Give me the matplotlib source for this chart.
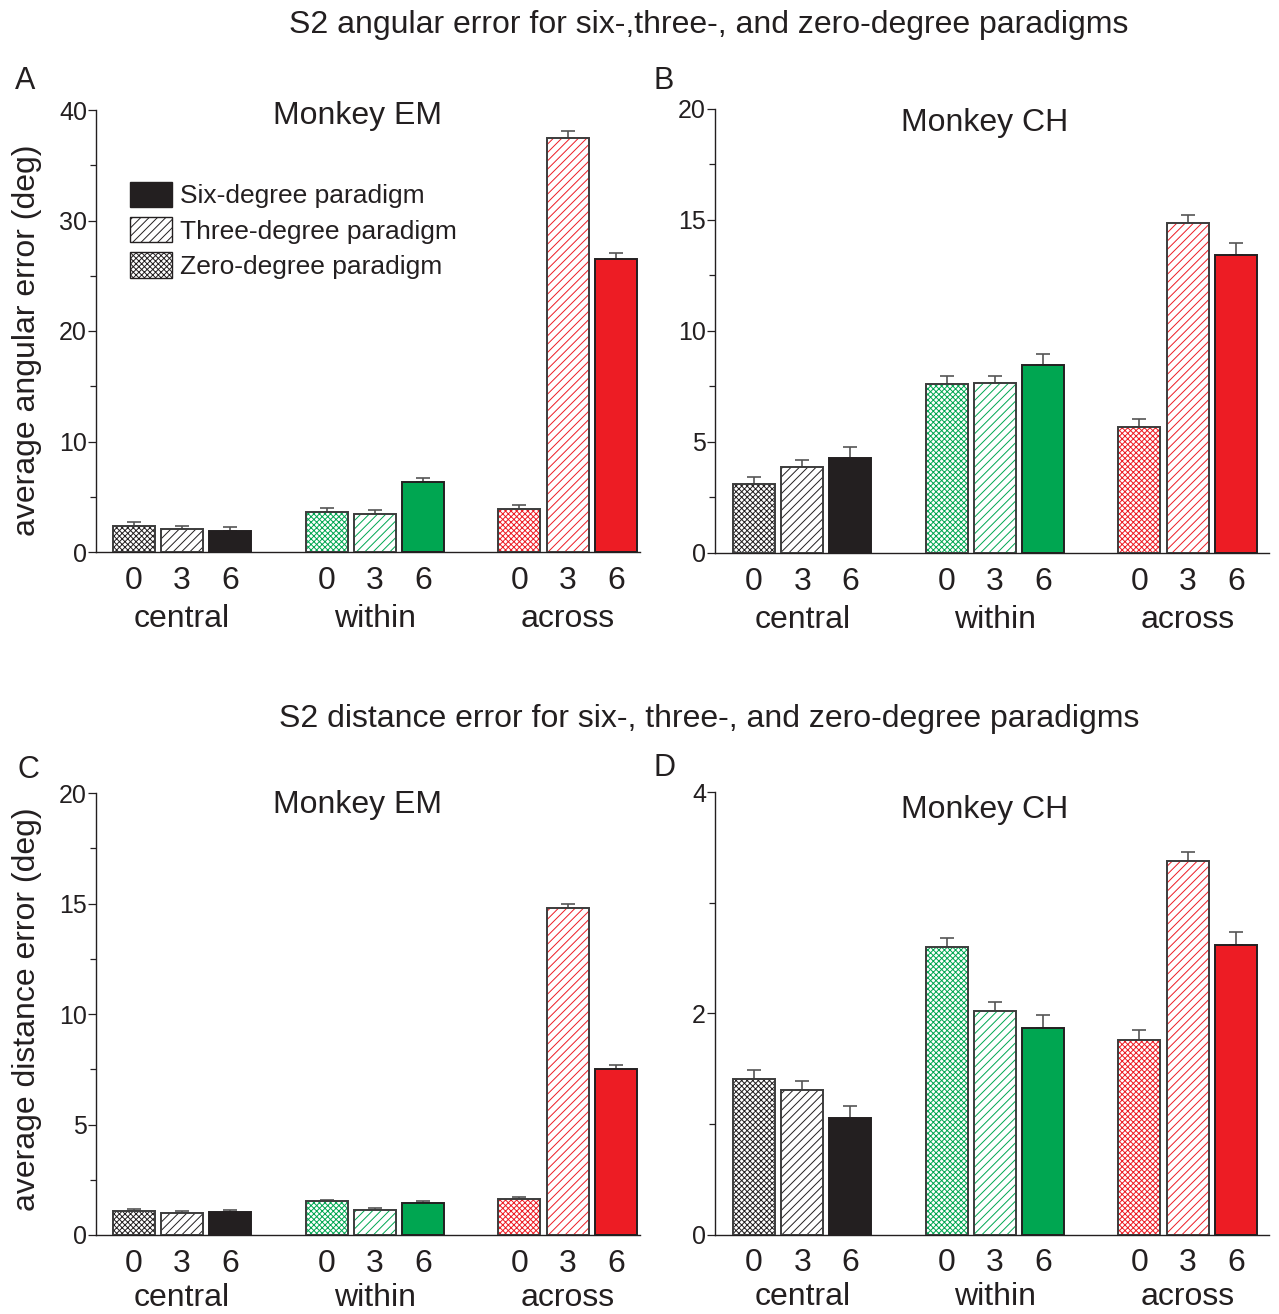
import matplotlib.pyplot as plt
import numpy as np
from matplotlib.patches import Patch
from matplotlib.ticker import MultipleLocator

plt.rcParams['font.family'] = ['Liberation Sans', 'DejaVu Sans']
plt.rcParams['hatch.linewidth'] = 0.7

W, H = 1279, 1314

groups = ['central', 'within', 'across']
paradigm_ticks = ['0', '3', '6']
legend_labels = ['Six-degree paradigm', 'Three-degree paradigm', 'Zero-degree paradigm']

# bar order in every panel: central 0/3/6, within 0/3/6, across 0/3/6
angular_em = [2.39, 2.05, 1.94, 3.65, 3.44, 6.33, 3.93, 37.5, 26.5]
angular_em_sem = [0.36, 0.34, 0.32, 0.35, 0.39, 0.34, 0.36, 0.6, 0.6]

angular_ch = [3.09, 3.85, 4.27, 7.60, 7.63, 8.44, 5.68, 14.87, 13.4]
angular_ch_sem = [0.35, 0.34, 0.51, 0.35, 0.34, 0.51, 0.37, 0.36, 0.56]

distance_em = [1.07, 0.98, 1.03, 1.52, 1.15, 1.43, 1.64, 14.8, 7.5]
distance_em_sem = [0.11, 0.12, 0.09, 0.07, 0.07, 0.09, 0.08, 0.2, 0.18]

distance_ch = [1.41, 1.31, 1.05, 2.60, 2.02, 1.87, 1.76, 3.38, 2.62]
distance_ch_sem = [0.08, 0.08, 0.11, 0.08, 0.08, 0.12, 0.09, 0.08, 0.12]

INK = '#231f20'
EDGE = '#3c3c3c'
GROUP_COLORS = ['#231f20', '#00a651', '#ed1c24']
HATCHES = ['xxxxxx', '////', None]   # zero-, three-, six-degree


def px_rect(left, right, top, bottom):
    return [left / W, 1 - bottom / H, (right - left) / W, (bottom - top) / H]


def draw_panel(ax, values, sem, ymax, major, minor, xlim, group_offset=-54):
    pos = np.array([g * 4 + k for g in range(3) for k in range(3)])
    for i, (x, v) in enumerate(zip(pos, values)):
        g, k = divmod(i, 3)
        color = GROUP_COLORS[g]
        if HATCHES[k] is None:
            ax.bar(x, v, width=0.87, color=color, edgecolor=INK, linewidth=1.4, zorder=2)
        else:
            ax.bar(x, v, width=0.87, color='white', edgecolor=color,
                   hatch=HATCHES[k], linewidth=0, zorder=2)
            ax.bar(x, v, width=0.87, color='none', edgecolor=EDGE, linewidth=1.4, zorder=3)
    ax.errorbar(pos, values, yerr=[np.zeros(len(values)), sem], fmt='none',
                ecolor='#555555', elinewidth=1.2, capsize=5, capthick=1.2, zorder=1)

    ax.set_xlim(*xlim)
    ax.set_ylim(0, ymax)
    ax.yaxis.set_major_locator(MultipleLocator(major))
    ax.yaxis.set_minor_locator(MultipleLocator(minor))
    ax.set_xticks(pos, labels=paradigm_ticks * 3)
    ax.tick_params(axis='x', length=0, pad=10, labelsize=23, colors=INK)
    ax.tick_params(axis='y', which='major', direction='out', length=6, width=0.9,
                   pad=0.5, labelsize=18, colors=INK)
    ax.tick_params(axis='y', which='minor', direction='out', length=4, width=0.9, colors=INK)
    for side in ['top', 'right']:
        ax.spines[side].set_visible(False)
    for side in ['left', 'bottom']:
        ax.spines[side].set_color(INK)
        ax.spines[side].set_linewidth(1.0)
    for g, name in enumerate(groups):
        ax.annotate(name, xy=(pos[g * 3 + 1], 0), xycoords=('data', 'axes fraction'),
                    xytext=(0, group_offset), textcoords='offset points',
                    ha='center', va='baseline', fontsize=23, color=INK)


fig = plt.figure(figsize=(W / 100, H / 100), dpi=100)

ax_a = fig.add_axes(px_rect(96, 640, 110, 552))
ax_b = fig.add_axes(px_rect(715, 1269, 108.5, 553))
ax_c = fig.add_axes(px_rect(96, 640, 793, 1235))
ax_d = fig.add_axes(px_rect(715, 1269, 792.3, 1234.5))

draw_panel(ax_a, angular_em, angular_em_sem, 40, 10, 5, (-0.78, 10.5))
draw_panel(ax_b, angular_ch, angular_ch_sem, 20, 5, 2.5, (-0.81, 10.69))
draw_panel(ax_c, distance_em, distance_em_sem, 20, 5, 2.5, (-0.78, 10.5), group_offset=-51)
draw_panel(ax_d, distance_ch, distance_ch_sem, 4, 2, 1, (-0.81, 10.69), group_offset=-51)

ax_a.set_ylabel('average angular error (deg)', fontsize=23, color=INK)
ax_a.yaxis.set_label_coords(-0.099, 0.48)
ax_c.set_ylabel('average distance error (deg)', fontsize=23, color=INK)
ax_c.yaxis.set_label_coords(-0.099, 0.51)

for ax, name, x, y in [(ax_a, 'Monkey EM', 0.48, 0.968),
                       (ax_b, 'Monkey CH', 0.487, 0.949),
                       (ax_c, 'Monkey EM', 0.48, 0.955),
                       (ax_d, 'Monkey CH', 0.487, 0.942)]:
    ax.text(x, y, name, transform=ax.transAxes, ha='center', va='baseline',
            fontsize=23, color=INK)

# legend inside panel A
handles = [Patch(facecolor=INK, edgecolor=INK, linewidth=1.0),
           Patch(facecolor='white', edgecolor=INK, hatch='////', linewidth=1.0),
           Patch(facecolor='white', edgecolor=INK, hatch='xxxxxx', linewidth=1.0)]
ax_a.legend(handles, legend_labels, loc='upper left', bbox_to_anchor=(0.0625, 0.838),
            frameon=False, fontsize=19, handlelength=1.59, handleheight=1.1,
            handletextpad=0.3, labelspacing=0.33, borderpad=0, borderaxespad=0,
            labelcolor=INK)

fig.text(709 / W, 1 - 33 / H, 'S2 angular error for six-,three-, and zero-degree paradigms',
         ha='center', va='baseline', fontsize=23, color=INK)
fig.text(709 / W, 1 - 727 / H, 'S2 distance error for six-, three-, and zero-degree paradigms',
         ha='center', va='baseline', fontsize=23, color=INK)

for letter, x, y in [('A', 25, 81), ('B', 664, 81), ('C', 28, 770), ('D', 664, 768)]:
    fig.text(x / W, 1 - y / H, letter, ha='center', va='center', fontsize=22, color=INK)

fig.savefig('out.png', dpi=100, facecolor='white')
